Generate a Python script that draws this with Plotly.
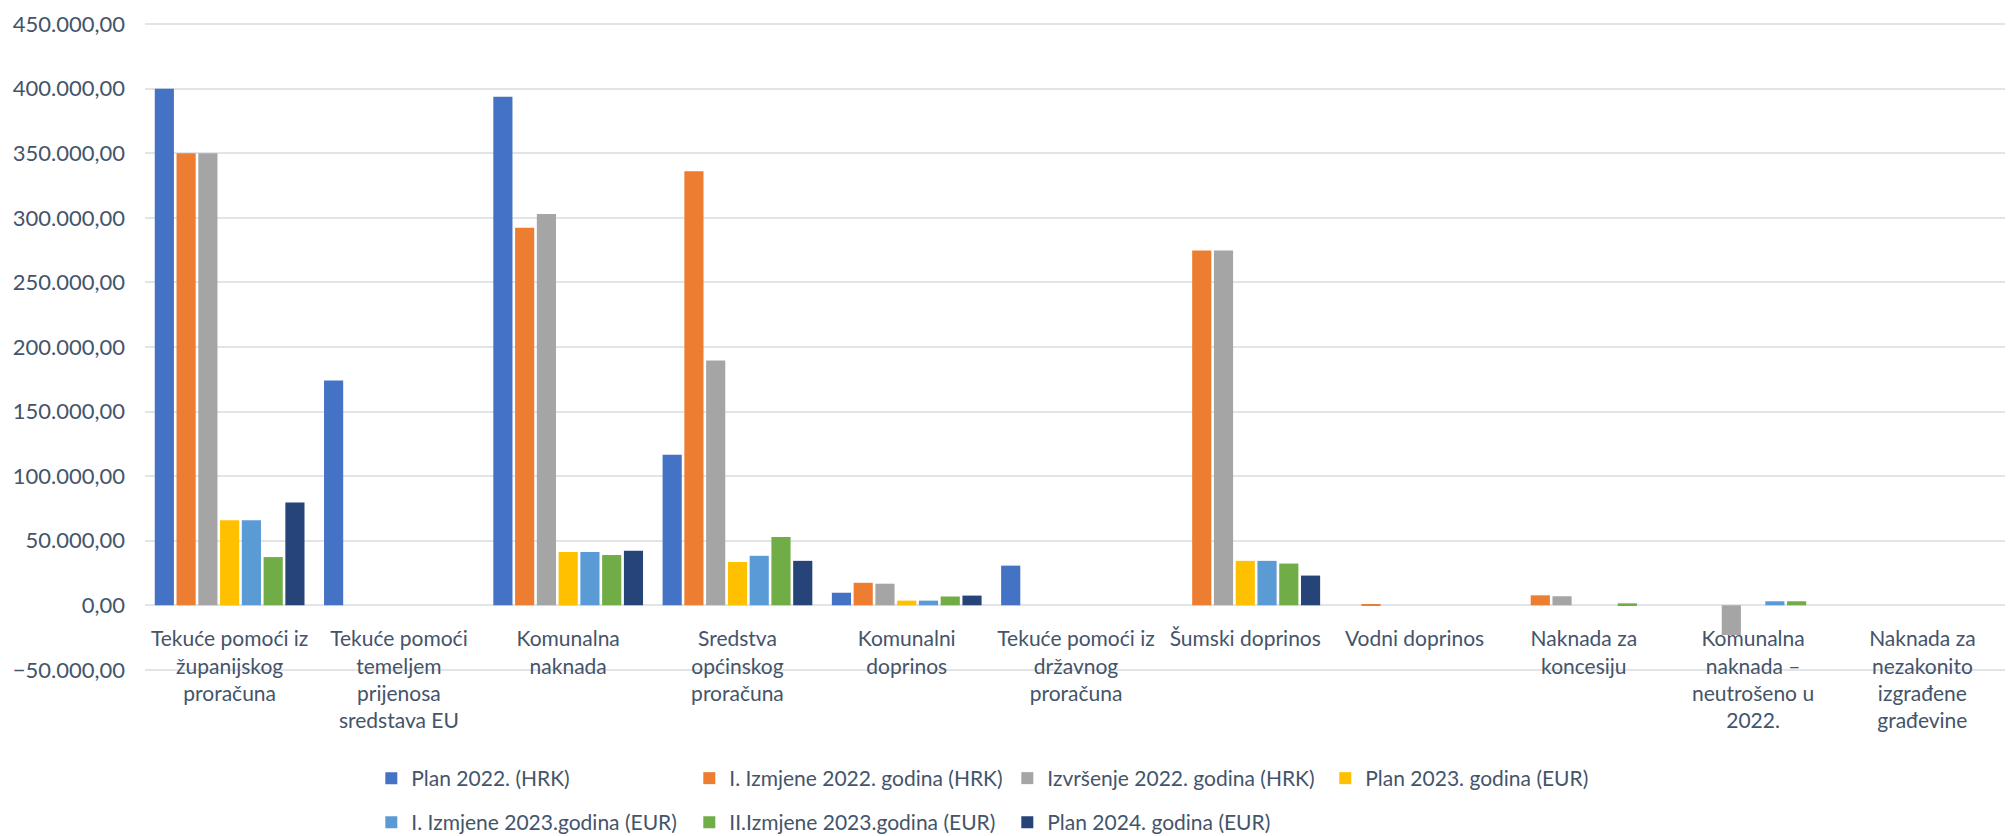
import plotly.graph_objects as go

categories = [
    "Tekuće pomoći iz županijskog proračuna",
    "Tekuće pomoći temeljem prijenosa sredstava EU",
    "Komunalna naknada",
    "Sredstva općinskog proračuna",
    "Komunalni doprinos",
    "Tekuće pomoći iz državnog proračuna",
    "Šumski doprinos",
    "Vodni doprinos",
    "Naknada za koncesiju",
    "Komunalna naknada – neutrošeno u 2022.",
    "Naknada za nezakonito izgrađene građevine",
]
tick_labels = [
    "Tekuće pomoći iz<br>županijskog<br>proračuna",
    "Tekuće pomoći<br>temeljem<br>prijenosa<br>sredstava EU",
    "Komunalna<br>naknada",
    "Sredstva<br>općinskog<br>proračuna",
    "Komunalni<br>doprinos",
    "Tekuće pomoći iz<br>državnog<br>proračuna",
    "Šumski doprinos",
    "Vodni doprinos",
    "Naknada za<br>koncesiju",
    "Komunalna<br>naknada –<br>neutrošeno u<br>2022.",
    "Naknada za<br>nezakonito<br>izgrađene<br>građevine",
]

series_names = [
    "Plan 2022. (HRK)",
    "I. Izmjene 2022. godina (HRK)",
    "Izvršenje 2022. godina (HRK)",
    "Plan 2023. godina (EUR)",
    "I. Izmjene 2023.godina (EUR)",
    "II.Izmjene 2023.godina (EUR)",
    "Plan 2024. godina (EUR)",
]
plan_2022 = [400000, 174000, 393800, 116600, 9700, 30700, 0, 0, 0, 0, 0]
izmjene_2022 = [350000, 0, 292400, 336100, 17400, 0, 274700, 800, 7700, 0, 0]
izvrsenje_2022 = [350000, 0, 303000, 189600, 16700, 0, 274700, 0, 7000, -23000, 0]
plan_2023 = [65900, 0, 41300, 33600, 3600, 0, 34400, 0, 0, 0, 0]
izmjene_2023 = [65900, 0, 41300, 38300, 3600, 0, 34400, 0, 0, 3100, 0]
izmjene2_2023 = [37300, 0, 38900, 52900, 6800, 0, 32300, 0, 1500, 3100, 0]
plan_2024 = [79600, 0, 42200, 34400, 7500, 0, 23000, 0, 0, 0, 0]

y_tick_values = [-50000, 0, 50000, 100000, 150000, 200000, 250000,
                 300000, 350000, 400000, 450000]

series_values = [plan_2022, izmjene_2022, izvrsenje_2022, plan_2023,
                 izmjene_2023, izmjene2_2023, plan_2024]
colors = ["#4472C4", "#ED7D31", "#A5A5A5", "#FFC000", "#5B9BD5", "#70AD47", "#264478"]

FONT = "Lato"
TEXT_COLOR = "#44546A"

fig = go.Figure()
for i, (name, vals, col) in enumerate(zip(series_names, series_values, colors)):
    fig.add_trace(go.Bar(
        x=categories, y=vals, name=name,
        marker=dict(color=col, line=dict(width=0)),
        legend="legend" if i < 4 else "legend2",
    ))

legend_common = dict(
    orientation="h", xref="container", yref="container",
    xanchor="left", yanchor="top",
    font=dict(family=FONT, size=21, color=TEXT_COLOR),
    entrywidth=273, entrywidthmode="pixels",
    bgcolor="rgba(0,0,0,0)", itemclick=False,
)

fig.update_layout(
    width=2005, height=828,
    margin=dict(l=137, r=6, t=15, b=165, autoexpand=False),
    paper_bgcolor="white", plot_bgcolor="white",
    separators=",.",
    barmode="group", bargap=0.1, bargroupgap=0.12,
    font=dict(family=FONT, size=21, color=TEXT_COLOR),
    xaxis=dict(
        tickvals=categories, ticktext=tick_labels,
        anchor="free", position=0.1,
        showline=False, showgrid=False, ticks="",
        ticklabelstandoff=18,
        tickfont=dict(family=FONT, size=21, color=TEXT_COLOR),
    ),
    yaxis=dict(
        range=[-50900, 450900], tickmode="array", tickvals=y_tick_values,
        tickformat=",.2f", ticklabeloverflow="allow",
        showgrid=True, gridcolor="#E1E4E8", gridwidth=2,
        zeroline=True, zerolinecolor="#E1E4E8", zerolinewidth=2,
        showline=False, ticks="", ticklabelstandoff=19,
        tickfont=dict(family=FONT, size=22, color=TEXT_COLOR),
    ),
    legend=dict(legend_common, x=0.1812, y=0.0942),
    legend2=dict(legend_common, x=0.1812, y=0.041),
    showlegend=True,
)

fig.write_html("out.html")
